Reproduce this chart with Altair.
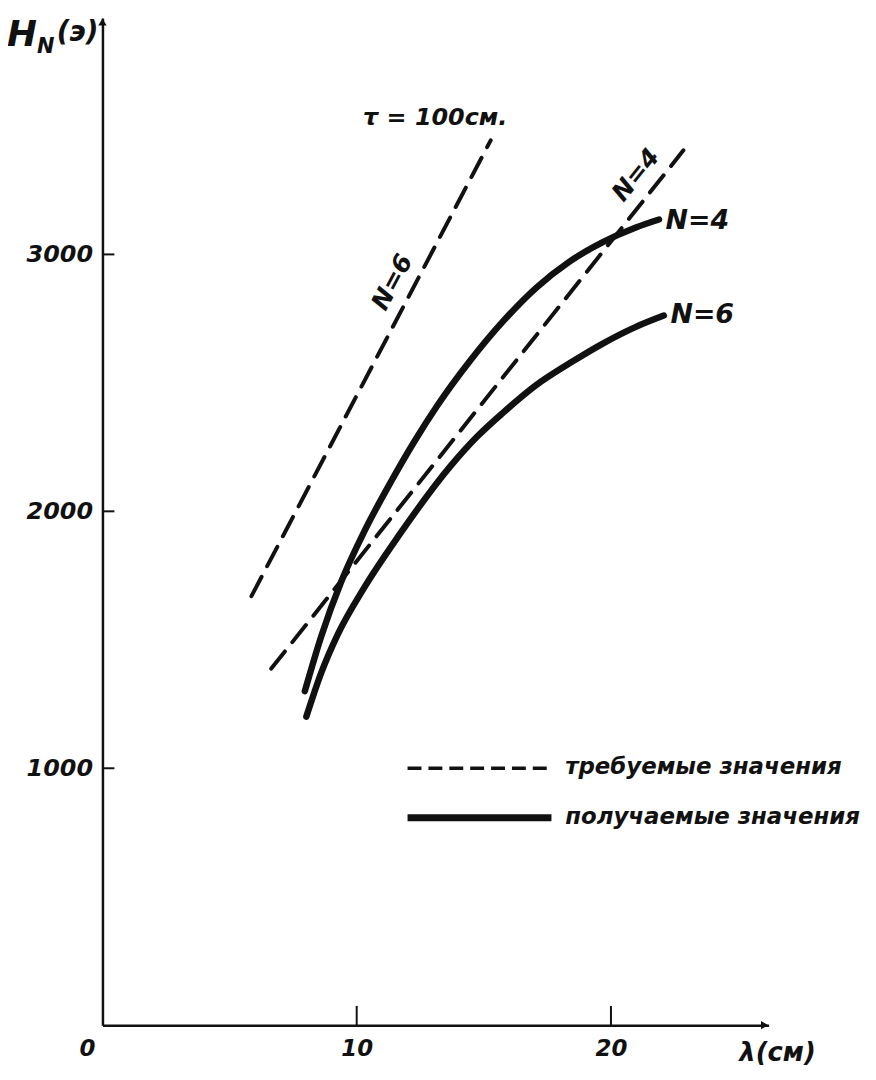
import altair as alt
import pandas as pd

# ---- data ----
# obtained values (solid curves)
n4_x = [7.96, 8.61, 9.39, 10.30, 11.34, 12.25, 13.16, 14.46, 15.77, 17.07, 18.37, 19.68, 20.98, 21.89]
n4_y = [1300, 1515, 1726, 1922, 2114, 2269, 2410, 2586, 2741, 2871, 2972, 3048, 3105, 3136]
n6_x = [8.02, 8.6, 9.26, 10.29, 11.68, 13.68, 14.73, 15.77, 17.07, 18.37, 19.68, 20.98, 22.08]
n6_y = [1201, 1370, 1522, 1702, 1909, 2175, 2290, 2385, 2492, 2576, 2653, 2718, 2762]
# required values (dashed straight lines)
req6_x = [5.86, 15.27]
req6_y = [1670, 3444]
req4_x = [6.64, 22.85]
req4_y = [1388, 3405]

x_ticks = [10, 20]
y_ticks = [1000, 2000, 3000]
x_max = 26.2
y_max = 3920

FONT = "DejaVu Sans"
INK = "#111111"

xs = alt.Scale(domain=[0, x_max], nice=False, zero=False)
ys = alt.Scale(domain=[0, y_max], nice=False, zero=False)

solid = pd.DataFrame(
    [{"x": x, "y": y, "s": "N4", "o": i} for i, (x, y) in enumerate(zip(n4_x, n4_y))]
    + [{"x": x, "y": y, "s": "N6", "o": i} for i, (x, y) in enumerate(zip(n6_x, n6_y))]
)
dashed = pd.DataFrame(
    [{"x": x, "y": y, "s": "r6"} for x, y in zip(req6_x, req6_y)]
    + [{"x": x, "y": y, "s": "r4"} for x, y in zip(req4_x, req4_y)]
)

base_x = alt.X("x:Q", scale=xs, axis=alt.Axis(
    values=x_ticks, title=None, ticks=False, grid=False, domainColor=INK,
    domainWidth=2.5, labelFont=FONT, labelFontSize=23, labelFontStyle="italic",
    labelFontWeight="bold", labelColor=INK, labelPadding=12, format="d"))
base_y = alt.Y("y:Q", scale=ys, axis=alt.Axis(
    values=y_ticks, title=None, ticks=False, grid=False, domainColor=INK,
    domainWidth=2.5, labelFont=FONT, labelFontSize=24, labelFontStyle="italic",
    labelFontWeight="bold", labelColor=INK, labelPadding=10, format="d"))

solid_layer = alt.Chart(solid).mark_line(
    color=INK, strokeWidth=6.5, strokeCap="round", interpolate="monotone"
).encode(x=base_x, y=base_y, detail="s:N", order="o:Q")

dashed_layer = alt.Chart(dashed).mark_line(
    color=INK, strokeWidth=4, strokeDash=[22, 12], strokeCap="round"
).encode(x=alt.X("x:Q", scale=xs), y=alt.Y("y:Q", scale=ys), detail="s:N")

# tick marks (pointing inward)
ytick_df = pd.DataFrame({"y": y_ticks, "x0": [0] * 3, "x1": [0.47] * 3})
ytick_layer = alt.Chart(ytick_df).mark_rule(color=INK, strokeWidth=2).encode(
    x=alt.X("x0:Q", scale=xs), x2="x1:Q", y=alt.Y("y:Q", scale=ys))
xtick_df = pd.DataFrame({"x": x_ticks, "y0": [0] * 2, "y1": [75] * 2})
xtick_layer = alt.Chart(xtick_df).mark_rule(color=INK, strokeWidth=2).encode(
    x=alt.X("x:Q", scale=xs), y=alt.Y("y0:Q", scale=ys), y2="y1:Q")

# arrow heads
arrow_up = alt.Chart(pd.DataFrame({"x": [0], "y": [y_max]})).mark_point(
    shape="triangle-up", filled=True, color=INK, size=70, opacity=1, yOffset=4
).encode(x=alt.X("x:Q", scale=xs), y=alt.Y("y:Q", scale=ys))
arrow_right = alt.Chart(pd.DataFrame({"x": [x_max], "y": [0]})).mark_point(
    shape="triangle-right", filled=True, color=INK, size=70, opacity=1, xOffset=-4
).encode(x=alt.X("x:Q", scale=xs), y=alt.Y("y:Q", scale=ys))

# legend
leg_df = pd.DataFrame({"x0": [12.0], "x1": [17.66], "y": [1000]})
leg_dash = alt.Chart(leg_df).mark_rule(
    color=INK, strokeWidth=3.5, strokeDash=[14, 7]).encode(
    x=alt.X("x0:Q", scale=xs), x2="x1:Q", y=alt.Y("y:Q", scale=ys))
leg_df2 = pd.DataFrame({"x0": [12.0], "x1": [17.66], "y": [807]})
leg_solid = alt.Chart(leg_df2).mark_rule(
    color=INK, strokeWidth=7).encode(
    x=alt.X("x0:Q", scale=xs), x2="x1:Q", y=alt.Y("y:Q", scale=ys))


def text(df, size=20, angle=0, align="left", dx=0, dy=0):
    kw = dict(font=FONT, fontSize=size, fontStyle="italic", fontWeight="bold",
              color=INK, align=align, baseline="middle", dx=dx, dy=dy)
    if angle:
        kw["angle"] = angle
    return alt.Chart(df).mark_text(**kw).encode(
        x=alt.X("x:Q", scale=xs), y=alt.Y("y:Q", scale=ys), text="t:N")


leg_text = text(pd.DataFrame({"x": [18.2, 18.2], "y": [1003, 810],
                              "t": ["требуемые значения", "получаемые значения"]}), size=23)
end_labels = text(pd.DataFrame({"x": [22.15, 22.34], "y": [3128, 2765],
                                "t": ["N=4", "N=6"]}), size=27)
tau_label = text(pd.DataFrame({"x": [13.09], "y": [3529], "t": ["τ = 100см."]}),
                 size=24, align="center")
rot6 = text(pd.DataFrame({"x": [11.4], "y": [2892], "t": ["N=6"]}),
            size=25, angle=298, align="center")
rot4 = text(pd.DataFrame({"x": [20.98], "y": [3309], "t": ["N=4"]}),
            size=25, angle=309, align="center")
zero_label = text(pd.DataFrame({"x": [0], "y": [0], "t": ["0"]}),
                  size=23, align="center", dx=-15, dy=24)

# axis titles (pixel offsets from the plot origin)
title_df = pd.DataFrame({"t": ["x"]})


def ptext(t, px, py, size, align="center"):
    return alt.Chart(title_df).mark_text(
        text=t, font=FONT, fontSize=size, fontStyle="italic", fontWeight="bold",
        color=INK, align=align, baseline="middle").encode(
        x=alt.value(px), y=alt.value(py))


y_title = (ptext("H", -81, 17, 36) + ptext("N", -57, 29, 21) + ptext("(э)", -25, 15, 28))
x_title = ptext("λ(см)", 679, 1041, 26)

chart = alt.layer(
    dashed_layer, solid_layer, ytick_layer, xtick_layer, arrow_up, arrow_right,
    leg_dash, leg_solid, leg_text, end_labels, tau_label, rot6, rot4, zero_label,
    y_title, x_title,
).properties(
    width=670, height=1013,
    autosize=alt.AutoSizeParams(type="none"),
    padding={"left": 95, "top": 7, "right": 100, "bottom": 45},
    background="white",
).configure_view(stroke=None)

chart.save("out.html", embed_options={"renderer": "svg", "actions": False})
